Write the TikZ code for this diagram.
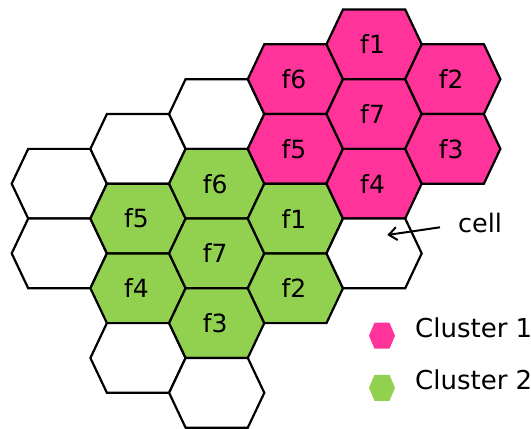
\documentclass[tikz,border=0pt]{standalone}
\usepackage{fontspec}
\setmainfont{DejaVu Sans}
\usetikzlibrary{arrows.meta}
\definecolor{cpink}{HTML}{FF3399}
\definecolor{cgreen}{HTML}{92D050}
\tikzset{
  hexcell/.style={line width=2.2pt, line join=miter},
  flabel/.style={font=\fontsize{25}{28}\selectfont, inner sep=0pt},
  legtext/.style={font=\fontsize{26}{30}\selectfont, inner sep=0pt, anchor=base west},
  pointer/.style={line width=2pt, -{Straight Barb[length=8pt,width=13pt,line width=2pt]}}
}
\def\HA{47.6}
\def\HB{31.1}
\def\HH{34.85}
\begin{document}
\begin{tikzpicture}[x=1pt,y=-1pt]
\useasboundingbox (0,0) rectangle (531,429);
\foreach \c/\k/\f/\t [count=\i] in {
  0/4/white/{}, 0/6/white/{},
  1/3/white/{}, 1/5/cgreen/f5, 1/7/cgreen/f4, 1/9/white/{},
  2/2/white/{}, 2/4/cgreen/f6, 2/6/cgreen/f7, 2/8/cgreen/f3, 2/10/white/{},
  3/1/cpink/f6, 3/3/cpink/f5, 3/5/cgreen/f1, 3/7/cgreen/f2,
  4/0/cpink/f1, 4/2/cpink/f7, 4/4/cpink/f4, 4/6/white/{},
  5/1/cpink/f2, 5/3/cpink/f3} {
  \pgfmathsetmacro\cx{59.3+78.7*\c}
  \pgfmathsetmacro\cy{44.3+34.85*\k}
  \filldraw[hexcell, fill=\f] (\cx-\HA,\cy) -- (\cx-\HB,\cy-\HH) -- (\cx+\HB,\cy-\HH)
     -- (\cx+\HA,\cy) -- (\cx+\HB,\cy+\HH) -- (\cx-\HB,\cy+\HH) -- cycle;
  \node[flabel] (h\i) at (\cx-1.5,\cy) {\t};
}
% arrow to a cell
\node[legtext, font=\fontsize{25.5}{30}\selectfont] (celltext) at (458,232) {cell};
\coordinate (arrtail) at (440,227.3);
\coordinate (arrtip) at (387.3,235);
\draw[pointer] (arrtail) -- (arrtip);
% legend
\fill[cpink] (369,335.7) -- (374.5,322.7) -- (389.5,322.7) -- (395,335.7) -- (389.5,348.7) -- (374.5,348.7) -- cycle;
\fill[cgreen] (369,387.8) -- (374.5,374.8) -- (389.5,374.8) -- (395,387.8) -- (389.5,400.8) -- (374.5,400.8) -- cycle;
\node[legtext] (leg1) at (415,337.3) {Cluster 1};
\node[legtext] (leg2) at (415,389.3) {Cluster 2};
\end{tikzpicture}
\end{document}
